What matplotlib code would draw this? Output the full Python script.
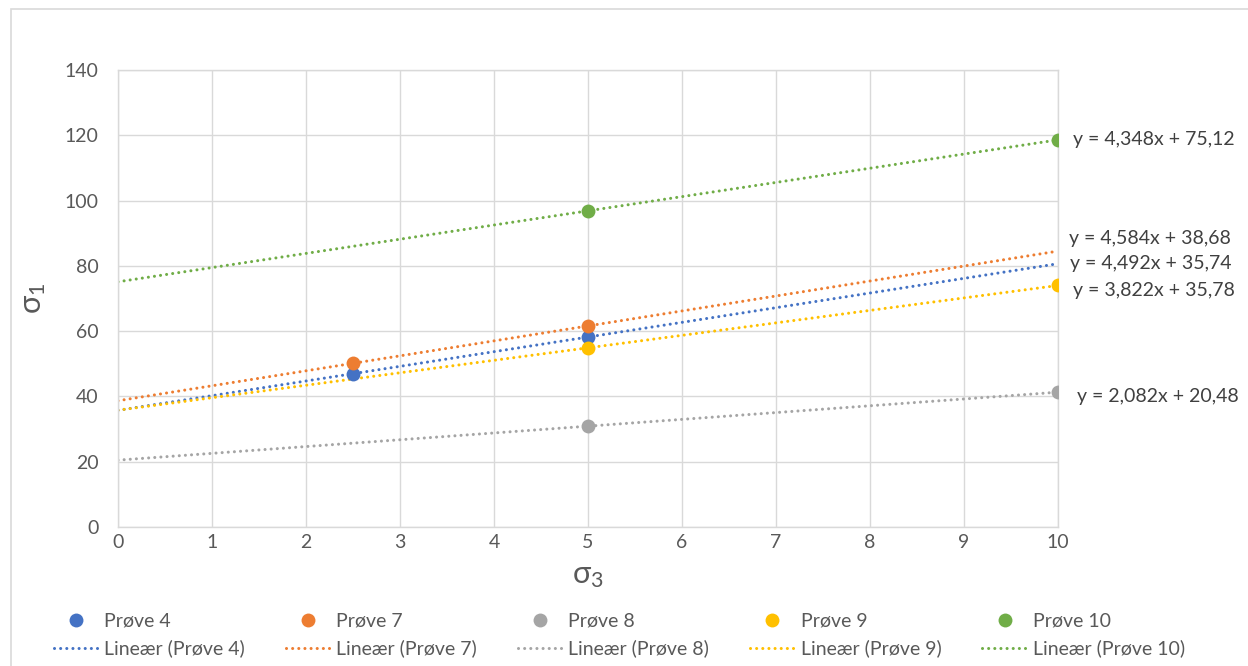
import matplotlib
matplotlib.use("Agg")
import matplotlib.pyplot as plt
from matplotlib.patches import Rectangle
import numpy as np

plt.rcParams['font.family'] = ['Lato', 'DejaVu Sans']
plt.rcParams['mathtext.fontset'] = 'custom'
plt.rcParams['mathtext.rm'] = 'Lato'
plt.rcParams['mathtext.it'] = 'Lato'

# Series data
series_names = ["Prøve 4", "Prøve 7", "Prøve 8", "Prøve 9", "Prøve 10"]
colors = ["#4472C4", "#ED7D31", "#A5A5A5", "#FFC000", "#70AD47"]
x_vals = [[2.5, 5], [2.5, 5], [5, 10], [5, 10], [5, 10]]
y_vals = [[47.0, 58.2], [50.1, 61.6], [30.9, 41.3], [54.9, 74.0], [96.9, 118.6]]

# Linear trendlines (slope, intercept)
slopes = [4.492, 4.584, 2.082, 3.822, 4.348]
intercepts = [35.74, 38.68, 20.48, 35.78, 75.12]
eq_labels = ["y = 4,492x + 35,74", "y = 4,584x + 38,68", "y = 2,082x + 20,48",
             "y = 3,822x + 35,78", "y = 4,348x + 75,12"]
# label offsets in points from the trendline end
eq_offsets = [(9, 0), (8, 9), (14, -3), (11, -4), (11, 0)]

x_ticks = list(range(0, 11))
y_ticks = list(range(0, 141, 20))

fig = plt.figure(figsize=(12.48, 6.66), dpi=100)
fig.patches.append(Rectangle((11 / 1248, -0.1), 1.2, 1 - 9 / 666 + 0.1,
                             transform=fig.transFigure, fill=False,
                             edgecolor="#D9D9D9", linewidth=1.2))

ax = fig.add_axes([118 / 1248, 1 - 527 / 666, (1058 - 118) / 1248, (527 - 70) / 666])

tick_color = "#595959"
grid_color = "#D9D9D9"

xline = np.array([0, 10])
handles = []
for name, c, xs, ys, m, b in zip(series_names, colors, x_vals, y_vals, slopes, intercepts):
    ln, = ax.plot(xline, m * xline + b, color=c, linewidth=2.2,
                  linestyle=(0, (0.01, 2.0)), dash_capstyle="round", zorder=2,
                  label=f"Lineær ({name})")
    sc, = ax.plot(xs, ys, linestyle="none", marker="o", markersize=10,
                  color=c, markeredgewidth=0, zorder=3, label=name)
    handles += [sc, ln]

for m, b, lab, off in zip(slopes, intercepts, eq_labels, eq_offsets):
    ax.annotate(lab, xy=(10, m * 10 + b), xytext=off, textcoords="offset points",
                ha="left", va="center", fontsize=14, color="#404040",
                annotation_clip=False)

ax.set_xlim(0, 10)
ax.set_ylim(0, 140)
ax.set_xticks(x_ticks)
ax.set_yticks(y_ticks)
ax.grid(True, color=grid_color, linewidth=1)
ax.set_axisbelow(True)
for s in ax.spines.values():
    s.set_color(grid_color)
    s.set_linewidth(1)
ax.tick_params(length=0, labelsize=14, labelcolor=tick_color)
ax.tick_params(axis="x", pad=5)
ax.tick_params(axis="y", pad=14)

ax.set_xlabel(r"σ$_3$", fontsize=22, color=tick_color, labelpad=8)
ax.set_ylabel(r"σ$_1$", fontsize=22, color=tick_color, labelpad=12)

leg = fig.legend(handles=handles, loc="lower left", ncol=5,
                 bbox_to_anchor=(36 / 1248, -9 / 666), frameon=False,
                 fontsize=14, handlelength=2.3, handletextpad=0.3,
                 columnspacing=2.1, labelspacing=0.5, labelcolor=tick_color)

fig.savefig("out.png", dpi=100)
